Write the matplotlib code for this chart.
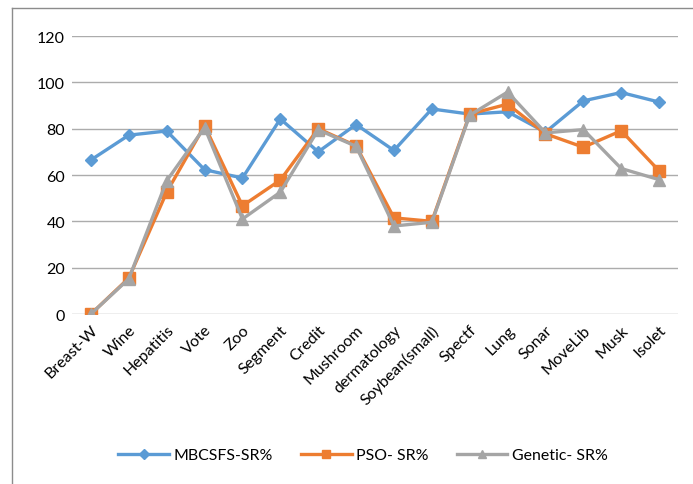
import matplotlib.pyplot as plt
from matplotlib.lines import Line2D

datasets = ["Breast-W", "Wine", "Hepatitis", "Vote", "Zoo", "Segment", "Credit",
            "Mushroom", "dermatology", "Soybean(small)", "Spectf", "Lung", "Sonar",
            "MoveLib", "Musk", "Isolet"]
mbcsfs_sr = [66.5, 77.2, 79.0, 62.3, 58.7, 84.2, 70.0, 81.8, 70.6, 88.5, 86.3, 87.3,
             78.5, 92.0, 95.6, 91.5]
pso_sr = [0.0, 15.5, 52.6, 81.3, 46.7, 57.8, 80.0, 72.6, 41.5, 40.0, 86.3, 90.6,
          77.8, 72.0, 79.1, 61.8]
genetic_sr = [0.0, 15.2, 57.5, 80.5, 41.0, 52.6, 79.5, 72.4, 38.0, 39.6, 85.8, 95.8,
              78.2, 79.6, 62.8, 58.0]

plt.rcParams["font.family"] = ["Lato", "DejaVu Sans"]

fig = plt.figure(figsize=(6.93, 4.85), dpi=100)
ax = fig.add_axes([0.1039, 0.3505, 0.8745, 0.5732])

x = list(range(len(datasets)))
ax.plot(x, mbcsfs_sr, color="#5B9BD5", lw=2.4, marker="D", ms=6.5, label="MBCSFS-SR%", zorder=3)
ax.plot(x, pso_sr, color="#ED7D31", lw=2.4, marker="s", ms=8, label="PSO- SR%", zorder=4)
ax.plot(x, genetic_sr, color="#A5A5A5", lw=2.4, marker="^", ms=8.5, label="Genetic- SR%", zorder=5)

ax.set_xlim(-0.5, len(datasets) - 0.5)
ax.set_ylim(0, 120)
ax.set_yticks(range(0, 121, 20))
ax.yaxis.grid(True, color="#ACACAC", lw=1.0)
ax.set_axisbelow(True)
for s in ax.spines.values():
    s.set_visible(False)
ax.tick_params(length=0, labelsize=11.5, colors="#000000")
ax.tick_params(axis="y", pad=5)
ax.set_xticks(x)
ax.set_xticklabels(datasets, rotation=45, ha="right", rotation_mode="anchor", fontsize=11.5)
ax.tick_params(axis="x", pad=6)

fig.legend(loc="center", bbox_to_anchor=(0.524, 1 - 456 / 485), ncol=3, frameon=False,
           fontsize=11.4, handlelength=3.2, columnspacing=1.75, handletextpad=0.3,
           markerscale=0.75)

# chart frame (top and left edges)
fig.add_artist(Line2D([12 / 693, 1.0], [1 - 9 / 485, 1 - 9 / 485], color="#8C8C8C", lw=1.0))
fig.add_artist(Line2D([12 / 693, 12 / 693], [0.0, 1 - 9 / 485], color="#8C8C8C", lw=1.0))

fig.savefig("out.png", dpi=100)
